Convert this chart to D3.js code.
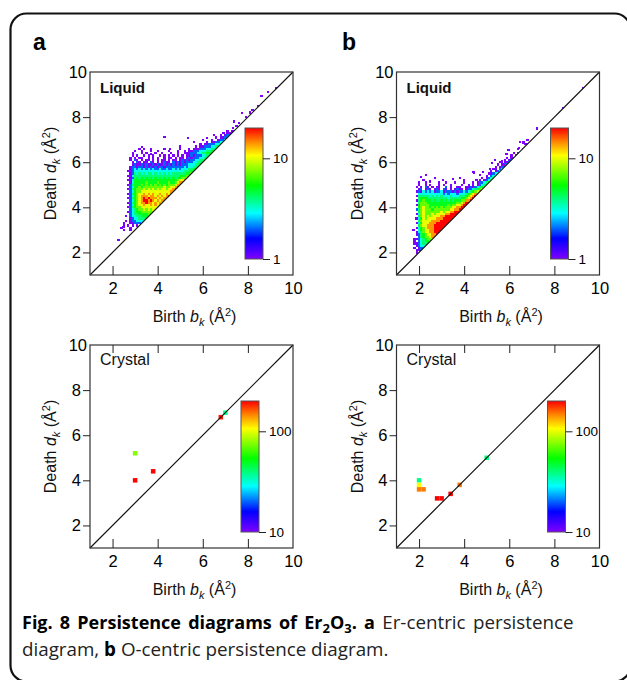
<!DOCTYPE html>
<html>
<head>
<meta charset="utf-8">
<script src="https://cdn.jsdelivr.net/npm/d3@7"></script>
<style>
body { margin: 0; background: #fff; }
svg text { font-family: "Liberation Sans", Arial, Helvetica, sans-serif; }
.caption text { font-family: "Open Sans", sans-serif; }
</style>
</head>
<body>
<div id="figure"></div>
<script>
var tickValues = [2, 4, 6, 8, 10];
var topTickValues = [2, 4, 6, 8];

// bin level digit -> count in the bin ("." is an empty bin)
var levelCounts = [0, 1, 2, 3, 4, 5, 7, 10, 14, 20];

// liquid, Er-centric: [death, first birth of the row, levels per 0.1 birth step]
var liquidErRows = [
    [7.4, 7.1, "1.11"],
    [7.3, 6.9, "1.112"],
    [7.2, 6.8, "1.122"],
    [7.1, 6.6, "1.1122"],
    [7.0, 6.4, "1..1223"],
    [6.9, 6.2, "1.112233"],
    [6.8, 5.9, "1.11222334"],
    [6.7, 5.7, "1.112223344"],
    [6.6, 3.0, "..1....1.. ...1...... 1..."],
    [6.6, 5.4, "1.11122233444"],
    [6.5, 2.9, ".1..1...1. .1....1... 1.."],
    [6.5, 5.2, "1.112223334454"],
    [6.4, 2.9, "1...1.1... 1..1...1.."],
    [6.4, 4.9, "1..1112223344554"],
    [6.3, 2.9, "1.1..1.1.1 ..1.1.1.1. 1.1.112122 23344"],
    [6.2, 2.8, "1.1.11..1. 1.1..1.11. 1.11.12122 23344"],
    [6.1, 2.8, "1.21.1.11. 1.1.11.1.1 1.12121223 3445"],
    [6.0, 2.7, "..1.21.11. 21.1.1211. 2121212223 3445"],
    [5.9, 2.7, "..12112121 1212112121 2121222333 445"],
    [5.8, 2.7, ".122122121 2121221222 2222232334 45"],
    [5.7, 2.7, ".123232323 2322322322 3232333445 5"],
    [5.6, 2.7, "1123333333 3333333333 3333344455"],
    [5.5, 2.7, ".124343434 4343434343 444444556"],
    [5.4, 2.7, "1134444444 4444444444 44455566"],
    [5.3, 2.7, ".124545454 5454545454 5455667"],
    [5.2, 2.7, "1135555555 5555555555 556778"],
    [5.1, 2.7, ".135555565 5556555565 56788"],
    [5.0, 2.7, "1245556565 6565656566 6788"],
    [4.9, 2.7, ".235565666 6666667667 789"],
    [4.8, 2.7, "1245666767 6767677677 89"],
    [4.7, 2.7, ".235667777 7777777778 8"],
    [4.6, 2.7, "1245677878 7877877878"],
    [4.5, 2.7, ".235678887 887878789"],
    [4.4, 2.7, "1245678989 88878788"],
    [4.3, 2.7, ".235678998 9878788"],
    [4.2, 2.7, "1245678898 878787"],
    [4.1, 2.7, ".235677877 87878"],
    [4.0, 2.7, "1245667777 7777"],
    [3.9, 2.7, ".234566767 677"],
    [3.8, 2.7, "1234556666 66"],
    [3.7, 2.7, ".234455556 5"],
    [3.6, 2.6, "1.23344555 5"],
    [3.5, 2.6, "..12334445"],
    [3.4, 2.6, "1.1223334"],
    [3.3, 2.5, "1..112223"],
    [3.2, 2.5, "1.1.1.1."],
    [3.1, 2.4, "1...1..."],
    [3.0, 2.5, "1..1"]
];
// single scattered pairs [birth, death]
var liquidErScatter = [
    [2.26, 2.55], [2.48, 3.13], [3.32, 6.66], [3.4, 6.57], [3.7, 6.35],
    [4.55, 6.57], [4.3, 7.13], [5.0, 6.7],
    [5.36, 7.09], [5.6, 6.9], [6.0, 7.0], [6.2, 7.09], [6.5, 7.2], [6.94, 7.28],
    [7.35, 7.53], [7.5, 7.62], [7.6, 7.75], [7.4, 7.8], [7.73, 8.17], [7.9, 8.0],
    [8.1, 8.2], [8.2, 8.32], [8.46, 8.5], [8.6, 8.94], [8.9, 9.1], [9.25, 9.3]
];

// liquid, O-centric
var liquidORows = [
    [6.8, 6.7, "11"],
    [6.6, 6.4, "1.1"],
    [6.4, 6.2, "1.1"],
    [6.3, 6.1, "1.1"],
    [6.2, 5.9, "1.12"],
    [6.1, 5.8, "1.12"],
    [6.0, 5.6, "1.112"],
    [5.9, 5.5, "1.122"],
    [5.8, 5.4, "1.122"],
    [5.7, 5.3, "11.23"],
    [5.6, 5.2, "1.123"],
    [5.5, 5.1, "11233"],
    [5.4, 5.0, "1.234"],
    [5.3, 4.8, "1.1234"],
    [5.2, 4.7, "1.1234"],
    [5.1, 2.0, "1..1.....1 ..1...1... 1...1.1223 45"],
    [5.0, 2.0, "1..1.1...1 .1..1....1 ..1.1.1234 5"],
    [4.9, 1.9, "1.1.21.1.1 1..2.1..11 ..11212345 6"],
    [4.8, 1.9, ".12.121.12 1.21.1.121 1.12234567"],
    [4.7, 1.9, "1213232312 2312221212 232345678"],
    [4.6, 1.9, ".333333333 3323233323 33456788"],
    [4.5, 1.9, "1444443434 3433343334 4456789"],
    [4.4, 1.9, ".455544444 4444344444 556789"],
    [4.3, 1.9, "1456555454 4545454555 66889"],
    [4.2, 1.9, ".466655555 5555555566 7899"],
    [4.1, 1.9, "1566665555 5555656677 899"],
    [4.0, 1.9, ".567665656 5656667788 99"],
    [3.9, 1.9, "2467666566 6666677889 9"],
    [3.8, 1.9, ".467666666 6767788999"],
    [3.7, 1.9, "1367666767 777889999"],
    [3.6, 1.9, ".467676777 78899999"],
    [3.5, 1.9, "1357677778 8899999"],
    [3.4, 1.9, ".467777888 899999"],
    [3.3, 1.9, "1357778889 99999"],
    [3.2, 1.9, ".467788899 9999"],
    [3.1, 1.9, "1356788899 999"],
    [3.0, 1.9, ".356778899 99"],
    [2.9, 1.9, "1346778899 9"],
    [2.8, 1.9, "1245677889"],
    [2.7, 1.9, ".24566788"],
    [2.6, 1.8, "112345667"],
    [2.5, 1.8, "1.234556"],
    [2.4, 1.8, "1123445"],
    [2.3, 1.8, ".12334"],
    [2.2, 1.8, "1.122"],
    [2.1, 1.9, "112"],
    [2.0, 1.9, "1"]
];
var liquidOScatter = [
    [2.08, 5.36], [2.32, 5.43], [2.48, 5.14], [3.07, 5.2], [2.2, 5.22], [2.7, 5.3],
    [3.5, 5.25], [3.8, 5.3], [4.0, 5.2], [4.45, 5.54], [4.41, 5.58], [4.55, 5.21],
    [4.7, 5.43], [4.85, 5.58], [5.15, 5.7], [5.22, 5.95], [5.37, 6.1], [5.67, 6.03],
    [5.74, 5.88], [5.88, 6.37], [5.96, 6.54], [6.44, 6.62], [6.48, 6.91], [6.63, 6.87],
    [6.81, 6.99], [7.23, 7.5], [8.38, 8.39], [9.29, 9.28], [1.8, 2.6], [1.75, 3.0], [1.85, 3.5]
];

// crystal: [birth, death, count]
var crystalErPoints = [[3.0, 5.2, 76], [3.0, 4.0, 200], [3.8, 4.4, 200], [7.0, 7.0, 38], [6.8, 6.8, 190]];
var crystalOPoints = [
    [2.0, 4.0, 38], [2.0, 3.8, 106], [2.0, 3.6, 150], [2.2, 3.6, 150], [2.8, 3.2, 200],
    [3.0, 3.2, 200], [3.4, 3.4, 200], [3.8, 3.8, 150], [5.0, 5.0, 40]
];

var liquidBarDomain = [1, 20];
var liquidBarTicks = [1, 10];
var crystalBarDomain = [10, 200];
var crystalBarTicks = [10, 100];

// rainbow colour table (position 0 = bottom of the colour bar)
var rainbowStops = [0, 0.155, 0.35, 0.56, 0.79, 0.89, 1];
var rainbowColors = ["#7f00ff", "#0000ff", "#00ffff", "#00ff00", "#ffff00", "#ff8c00", "#ff0000"];
var rainbow = d3.scaleLinear().domain(rainbowStops).range(rainbowColors).clamp(true);


persistencePlot = function(_svg, _config){
    this.svg = _svg;
    this.config = _config;

    this.initVis();
}


persistencePlot.prototype.initVis = function() {
    var vis = this;
    var c = vis.config;

    vis.size = 203;
    vis.g = vis.svg.append("g")
        .attr("transform", "translate(" + c.left + "," + c.top + ")");

    vis.x = d3.scaleLinear().domain([1, 10]).range([0, vis.size]);
    vis.y = d3.scaleLinear().domain([1, 10]).range([vis.size, 0]);
    vis.t = d3.scaleLog().domain(c.barDomain).range([0, 1]).clamp(true);

    // liquid bins are cut at the diagonal
    vis.g.append("clipPath")
        .attr("id", "clip-" + c.id)
        .append("path")
        .attr("d", "M" + vis.x(1) + "," + vis.y(1) + "L" + vis.x(1) + "," + vis.y(10) + "L" + vis.x(10) + "," + vis.y(10) + "Z");

    vis.cells = vis.g.append("g")
        .attr("shape-rendering", c.clip ? "crispEdges" : null)
        .attr("clip-path", c.clip ? "url(#clip-" + c.id + ")" : null);

    vis.g.append("line")
        .attr("x1", vis.x(1)).attr("y1", vis.y(1))
        .attr("x2", vis.x(10)).attr("y2", vis.y(10))
        .attr("stroke", "#111")
        .attr("stroke-width", 1.2);

    vis.g.append("rect")
        .attr("width", vis.size)
        .attr("height", vis.size)
        .attr("fill", "none")
        .attr("stroke", "#333")
        .attr("stroke-width", 1.2);

    // axes
    vis.xAxis = d3.axisBottom(vis.x)
        .tickValues(tickValues)
        .tickSizeInner(-9)
        .tickSizeOuter(0)
        .tickPadding(7);
    vis.yAxis = d3.axisLeft(vis.y)
        .tickValues(tickValues)
        .tickSizeInner(7)
        .tickSizeOuter(0)
        .tickPadding(2);

    var gx = vis.g.append("g")
        .attr("class", "x-axis axis")
        .attr("transform", "translate(0," + vis.size + ")")
        .call(vis.xAxis)
        .attr("font-size", 16.5)
        .attr("font-family", null);
    var gy = vis.g.append("g")
        .attr("class", "y-axis axis")
        .call(vis.yAxis)
        .attr("font-size", 16.5)
        .attr("font-family", null);
    gx.select(".domain").remove();
    gy.select(".domain").remove();
    gx.selectAll(".tick").filter(function(d){ return d == 10; }).select("line").remove();
    gy.selectAll(".tick").filter(function(d){ return d == 10; }).select("line").remove();
    gy.selectAll(".tick").filter(function(d){ return d == 10; }).select("text").attr("x", -3);
    gx.selectAll("line").attr("stroke", "#222");
    gy.selectAll("line").attr("stroke", "#222");

    if (c.topTicks) {
        var gt = vis.g.append("g")
            .call(d3.axisTop(vis.x).tickValues(topTickValues).tickSizeInner(-8).tickSizeOuter(0).tickFormat(""));
        gt.select(".domain").remove();
        gt.selectAll("line").attr("stroke", "#222");
    }

    // axis titles
    var xt = vis.g.append("text")
        .attr("x", vis.size / 2 + 3)
        .attr("y", vis.size + 47)
        .attr("text-anchor", "middle")
        .attr("font-size", 16)
        .attr("fill", "#111");
    xt.append("tspan").text("Birth ");
    xt.append("tspan").attr("font-style", "italic").text("b");
    xt.append("tspan").attr("font-style", "italic").attr("font-size", 11).attr("dy", 4).text("k");
    xt.append("tspan").attr("dy", -4).text(" (Å");
    xt.append("tspan").attr("font-size", 11).attr("dy", -6).text("2");
    xt.append("tspan").attr("dy", 6).text(")");

    var yt = vis.g.append("text")
        .attr("transform", "translate(-34," + (vis.size / 2) + ") rotate(-90)")
        .attr("text-anchor", "middle")
        .attr("font-size", 16)
        .attr("fill", "#111");
    yt.append("tspan").text("Death ");
    yt.append("tspan").attr("font-style", "italic").text("d");
    yt.append("tspan").attr("font-style", "italic").attr("font-size", 11).attr("dy", 4).text("k");
    yt.append("tspan").attr("dy", -4).text(" (Å");
    yt.append("tspan").attr("font-size", 11).attr("dy", -6).text("2");
    yt.append("tspan").attr("dy", 6).text(")");

    vis.g.append("text")
        .attr("x", 10)
        .attr("y", c.bold ? 21 : 20)
        .attr("font-size", c.bold ? 15 : 16)
        .attr("font-weight", c.bold ? "bold" : "normal")
        .attr("fill", "#111")
        .text(c.label);

    // colour bar
    vis.barH = 131;
    vis.bar = vis.g.append("g")
        .attr("transform", "translate(" + c.barX + ",56)");
    vis.bar.append("rect")
        .attr("width", 18)
        .attr("height", vis.barH)
        .attr("fill", "url(#rainbow)")
        .attr("stroke", "#555")
        .attr("stroke-width", 1);
    vis.barScale = d3.scaleLog().domain(c.barDomain).range([vis.barH, 0]);
    var gb = vis.bar.append("g")
        .attr("transform", "translate(18,0)")
        .call(d3.axisRight(vis.barScale).tickValues(c.barTicks).tickFormat(d3.format("d")).tickSize(7).tickPadding(3))
        .attr("font-size", 13.5)
        .attr("font-family", null);
    gb.select(".domain").remove();
    gb.selectAll("line").attr("stroke", "#222");

    vis.wrangleData();
}


persistencePlot.prototype.wrangleData = function(){
    var vis = this;
    var c = vis.config;

    vis.displayData = [];
    (c.rows || []).forEach(function(r){
        var levels = r[2].replace(/ /g, "");
        var start = Math.round(r[1] * 10);
        for (var i = 0; i < levels.length; i++) {
            var ch = levels.charAt(i);
            if (ch == ".") continue;
            vis.displayData.push({birth: (start + i) / 10, death: r[0], count: levelCounts[+ch], w: 0.1});
        }
    });
    (c.scatter || []).forEach(function(p){
        vis.displayData.push({birth: p[0], death: p[1], count: 1, w: 0.1});
    });
    (c.points || []).forEach(function(p){
        vis.displayData.push({birth: p[0], death: p[1], count: p[2], w: 0.2});
    });

    vis.updateVis();
}


persistencePlot.prototype.updateVis = function(){
    var vis = this;

    vis.rect = vis.cells.selectAll("rect")
        .data(vis.displayData);

    vis.rect.enter()
        .append("rect")
        .merge(vis.rect)
        .attr("x", function(d){ return vis.x(d.birth - d.w / 2); })
        .attr("y", function(d){ return vis.y(d.death + d.w / 2); })
        .attr("width", function(d){ return vis.x(d.birth + d.w / 2) - vis.x(d.birth - d.w / 2); })
        .attr("height", function(d){ return vis.y(d.death - d.w / 2) - vis.y(d.death + d.w / 2); })
        .attr("fill", function(d){ return rainbow(vis.t(d.count)); });

    vis.rect.exit().remove();
}


var svg = d3.select("#figure").append("svg")
    .attr("width", 627)
    .attr("height", 680);

var grad = svg.append("defs").append("linearGradient")
    .attr("id", "rainbow")
    .attr("x1", 0).attr("y1", 1)
    .attr("x2", 0).attr("y2", 0);
rainbowStops.forEach(function(s, i){
    grad.append("stop").attr("offset", s).attr("stop-color", rainbowColors[i]);
});

// figure frame
svg.append("rect")
    .attr("x", 10.5)
    .attr("y", 13.5)
    .attr("width", 620)
    .attr("height", 668)
    .attr("rx", 16)
    .attr("fill", "none")
    .attr("stroke", "#111")
    .attr("stroke-width", 2.2);

svg.append("text").attr("x", 33).attr("y", 50).attr("font-size", 23).attr("font-weight", "bold").text("a");
svg.append("text").attr("x", 342).attr("y", 50).attr("font-size", 23).attr("font-weight", "bold").text("b");

var plots = [
    new persistencePlot(svg, {id: "la", left: 90, top: 72, rows: liquidErRows, scatter: liquidErScatter, clip: true,
        label: "Liquid", bold: true, barDomain: liquidBarDomain, barTicks: liquidBarTicks, barX: 155}),
    new persistencePlot(svg, {id: "lb", left: 396.5, top: 72, rows: liquidORows, scatter: liquidOScatter, clip: true,
        label: "Liquid", bold: true, barDomain: liquidBarDomain, barTicks: liquidBarTicks, barX: 154}),
    new persistencePlot(svg, {id: "ca", left: 90, top: 345, points: crystalErPoints, topTicks: true,
        label: "Crystal", bold: false, barDomain: crystalBarDomain, barTicks: crystalBarTicks, barX: 151}),
    new persistencePlot(svg, {id: "cb", left: 396.5, top: 345, points: crystalOPoints, topTicks: true,
        label: "Crystal", bold: false, barDomain: crystalBarDomain, barTicks: crystalBarTicks, barX: 151})
];

// caption (first line is justified, so its word gaps are wider)
var cap = svg.append("g").attr("class", "caption").attr("fill", "#222");
var l1 = cap.append("text").attr("x", 22).attr("y", 629).attr("font-size", 18.8).attr("word-spacing", 2.5);
l1.append("tspan").attr("font-weight", "bold").attr("font-size", 18).attr("fill", "#000").text("Fig. 8 Persistence diagrams of Er");
l1.append("tspan").attr("font-weight", "bold").attr("fill", "#000").attr("font-size", 13).attr("dy", 4).text("2");
l1.append("tspan").attr("font-weight", "bold").attr("fill", "#000").attr("font-size", 18).attr("dy", -4).text("O");
l1.append("tspan").attr("font-weight", "bold").attr("fill", "#000").attr("font-size", 13).attr("dy", 4).text("3");
l1.append("tspan").attr("font-weight", "bold").attr("fill", "#000").attr("font-size", 18).attr("dy", -4).text(". a");
l1.append("tspan").text(" Er-centric persistence");
var l2 = cap.append("text").attr("x", 22).attr("y", 656).attr("font-size", 18.8);
l2.append("tspan").text("diagram, ");
l2.append("tspan").attr("font-weight", "bold").attr("fill", "#000").text("b");
l2.append("tspan").text(" O-centric persistence diagram.");
</script>
</body>
</html>
